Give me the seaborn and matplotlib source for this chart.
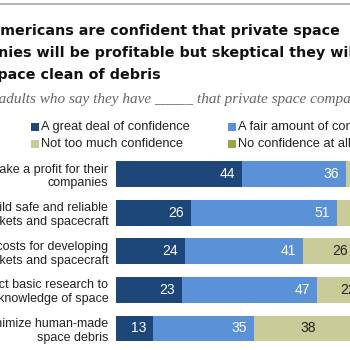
import pandas as pd
import seaborn as sns
import matplotlib.pyplot as plt
from matplotlib.lines import Line2D
from matplotlib.patches import Rectangle

# data (the picture is cropped on both sides)
items = [
    "Make a profit for their\ncompanies",
    "Build safe and reliable\nrockets and spacecraft",
    "Reduce costs for developing\nrockets and spacecraft",
    "Conduct basic research to\nincrease knowledge of space",
    "Minimize human-made\nspace debris",
]
great_deal = [44, 26, 24, 23, 13]
fair_amount = [36, 51, 41, 47, 35]
not_much = [14, 17, 26, 22, 38]
no_conf = [5, 5, 8, 7, 13]

legend_labels = ["A great deal of confidence", "A fair amount of confidence",
                 "Not too much confidence", "No confidence at all"]
colors = ["#1d4679", "#5b91d6", "#c9cb98", "#9ca24a"]

title_lines = ["Most Americans are confident that private space",
               "companies will be profitable but skeptical they will",
               "keep space clean of debris"]
subtitle = "% of U.S. adults who say they have _____ that private space companies will ..."

df = pd.DataFrame({"item": items, "great": great_deal, "fair": fair_amount,
                   "not_much": not_much, "none": no_conf})
df["c1"] = df["great"]
df["c2"] = df["c1"] + df["fair"]
df["c3"] = df["c2"] + df["not_much"]
df["c4"] = df["c3"] + df["none"]

sns.set_style("white")
plt.rcParams["font.family"] = ["Liberation Sans", "DejaVu Sans"]

W = 350.0
fig = plt.figure(figsize=(3.5, 3.5), dpi=100)

def fx(px):
    return px / W

def fy(py):
    return 1 - py / W

# axes placed in pixel terms: bars start at x=116, 100% ~ 287px
ax = fig.add_axes([fx(116), fy(347.8), 287 / W, (347.8 - 154.7) / W])

# stacked bars: draw cumulative totals from the back to the front
for col, c in zip(["c4", "c3", "c2", "c1"], colors[::-1]):
    sns.barplot(data=df, x=col, y="item", color=c, orient="h", width=0.67,
                ax=ax, saturation=1, edgecolor="none", linewidth=0)

ax.set_xlim(0, 100)
ax.set_ylim(4.5, -0.5)
ax.set_xlabel("")
ax.set_ylabel("")
ax.set_xticks([])
ax.tick_params(axis="y", length=0, pad=5.5, labelsize=9.0, labelcolor="#222222")
sns.despine(ax=ax, left=True, bottom=True)

# value labels
for i, row in df.iterrows():
    ax.text(row["c1"] - 2.4, i, str(row["great"]), color="white", ha="right",
            va="center", fontsize=10)
    ax.text(row["c2"] - 2.4, i, str(row["fair"]), color="white", ha="right",
            va="center", fontsize=10)
    ax.text(row["c2"] + row["not_much"] / 2, i, str(row["not_much"]),
            color="#222222", ha="center", va="center", fontsize=10)
    ax.text(row["c3"] + row["none"] / 2, i, str(row["none"]),
            color="#222222", ha="center", va="center", fontsize=10)

# top rule
fig.add_artist(Line2D([0, 1], [fy(4), fy(4)], color="#aaaaaa", lw=1.2))

# title, its left part falls outside the crop
tx = -55
for line, by in zip(title_lines, [35, 57, 79]):
    fig.text(fx(tx), fy(by), line, fontsize=10.3, fontweight="bold",
             color="#111111", va="baseline", ha="left",
             family=["DejaVu Sans"])

fig.text(fx(-64), fy(103), subtitle, fontsize=11, style="italic",
         color="#666666", va="baseline", ha="left",
         family=["Liberation Serif", "DejaVu Serif"])

# legend drawn by hand, two rows of two
leg_pos = [(31, 127), (228, 127), (31, 144), (228, 144)]
for (lx, ly), lab, c in zip(leg_pos, legend_labels, colors):
    fig.add_artist(Rectangle((fx(lx), fy(ly + 4)), 8 / W, 8 / W,
                             transform=fig.transFigure, color=c, lw=0))
    fig.text(fx(lx + 10), fy(ly), lab, color="#222222", fontsize=9.3,
             va="center", ha="left")

fig.savefig("out.png", dpi=100)
